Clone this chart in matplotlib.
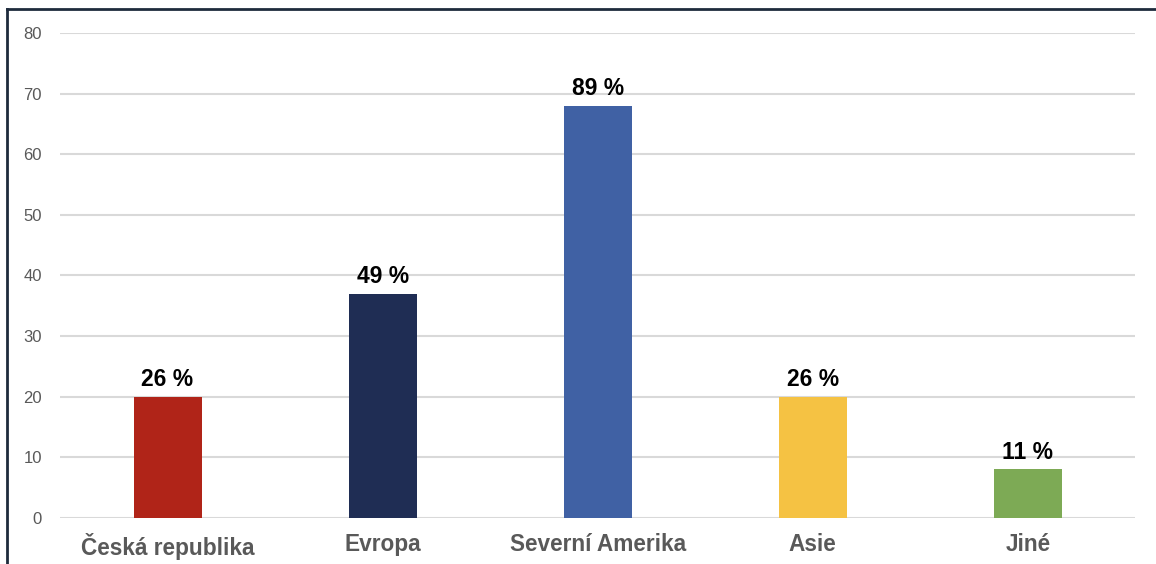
import matplotlib
matplotlib.use("Agg")
import matplotlib.pyplot as plt
from matplotlib.lines import Line2D

categories = ["Česká republika", "Evropa", "Severní Amerika", "Asie", "Jiné"]
values = [20, 37, 68, 20, 8]
labels = ["26 %", "49 %", "89 %", "26 %", "11 %"]
colors = ["#B02418", "#1F2D54", "#4061A4", "#F5C243", "#7DAA55"]
yticks = [0, 10, 20, 30, 40, 50, 60, 70, 80]

plt.rcParams['font.family'] = ['Liberation Sans', 'DejaVu Sans']

fig = plt.figure(figsize=(11.56, 5.64), dpi=100)
ax = fig.add_axes([0.0519, 0.0816, 0.9303, 0.8599])

x = list(range(len(categories)))
bars = ax.bar(x, values, width=0.316, color=colors, zorder=3)
for b, lab in zip(bars, labels):
    ax.annotate(lab, (b.get_x() + b.get_width() / 2, b.get_height()),
                xytext=(0, 4), textcoords="offset points",
                ha="center", va="bottom", fontsize=16.5, fontweight="bold",
                color="black", zorder=4)

ax.set_xlim(-0.5, 4.5)
ax.set_ylim(0, 80)
ax.set_yticks(yticks)
ax.set_yticklabels([str(t) for t in yticks], fontsize=12, color="#595959")
ax.set_xticks(x)
ax.set_xticklabels(categories, fontsize=16.3, fontweight="bold", color="#595959")
ax.tick_params(axis="both", length=0)
ax.tick_params(axis="y", pad=13)
ax.tick_params(axis="x", pad=11)
ax.grid(axis="y", color="#D9D9D9", linewidth=1.5, zorder=0)
ax.set_axisbelow(True)
for s in ax.spines.values():
    s.set_visible(False)

# outer frame (left and top edges)
fig.add_artist(Line2D([7 / 1156, 7 / 1156], [0, 1 - 9 / 564], transform=fig.transFigure,
                      color="#1E2B3C", linewidth=2))
fig.add_artist(Line2D([7 / 1156, 1], [1 - 9 / 564, 1 - 9 / 564], transform=fig.transFigure,
                      color="#1E2B3C", linewidth=2))

fig.savefig("out.png", dpi=100)
